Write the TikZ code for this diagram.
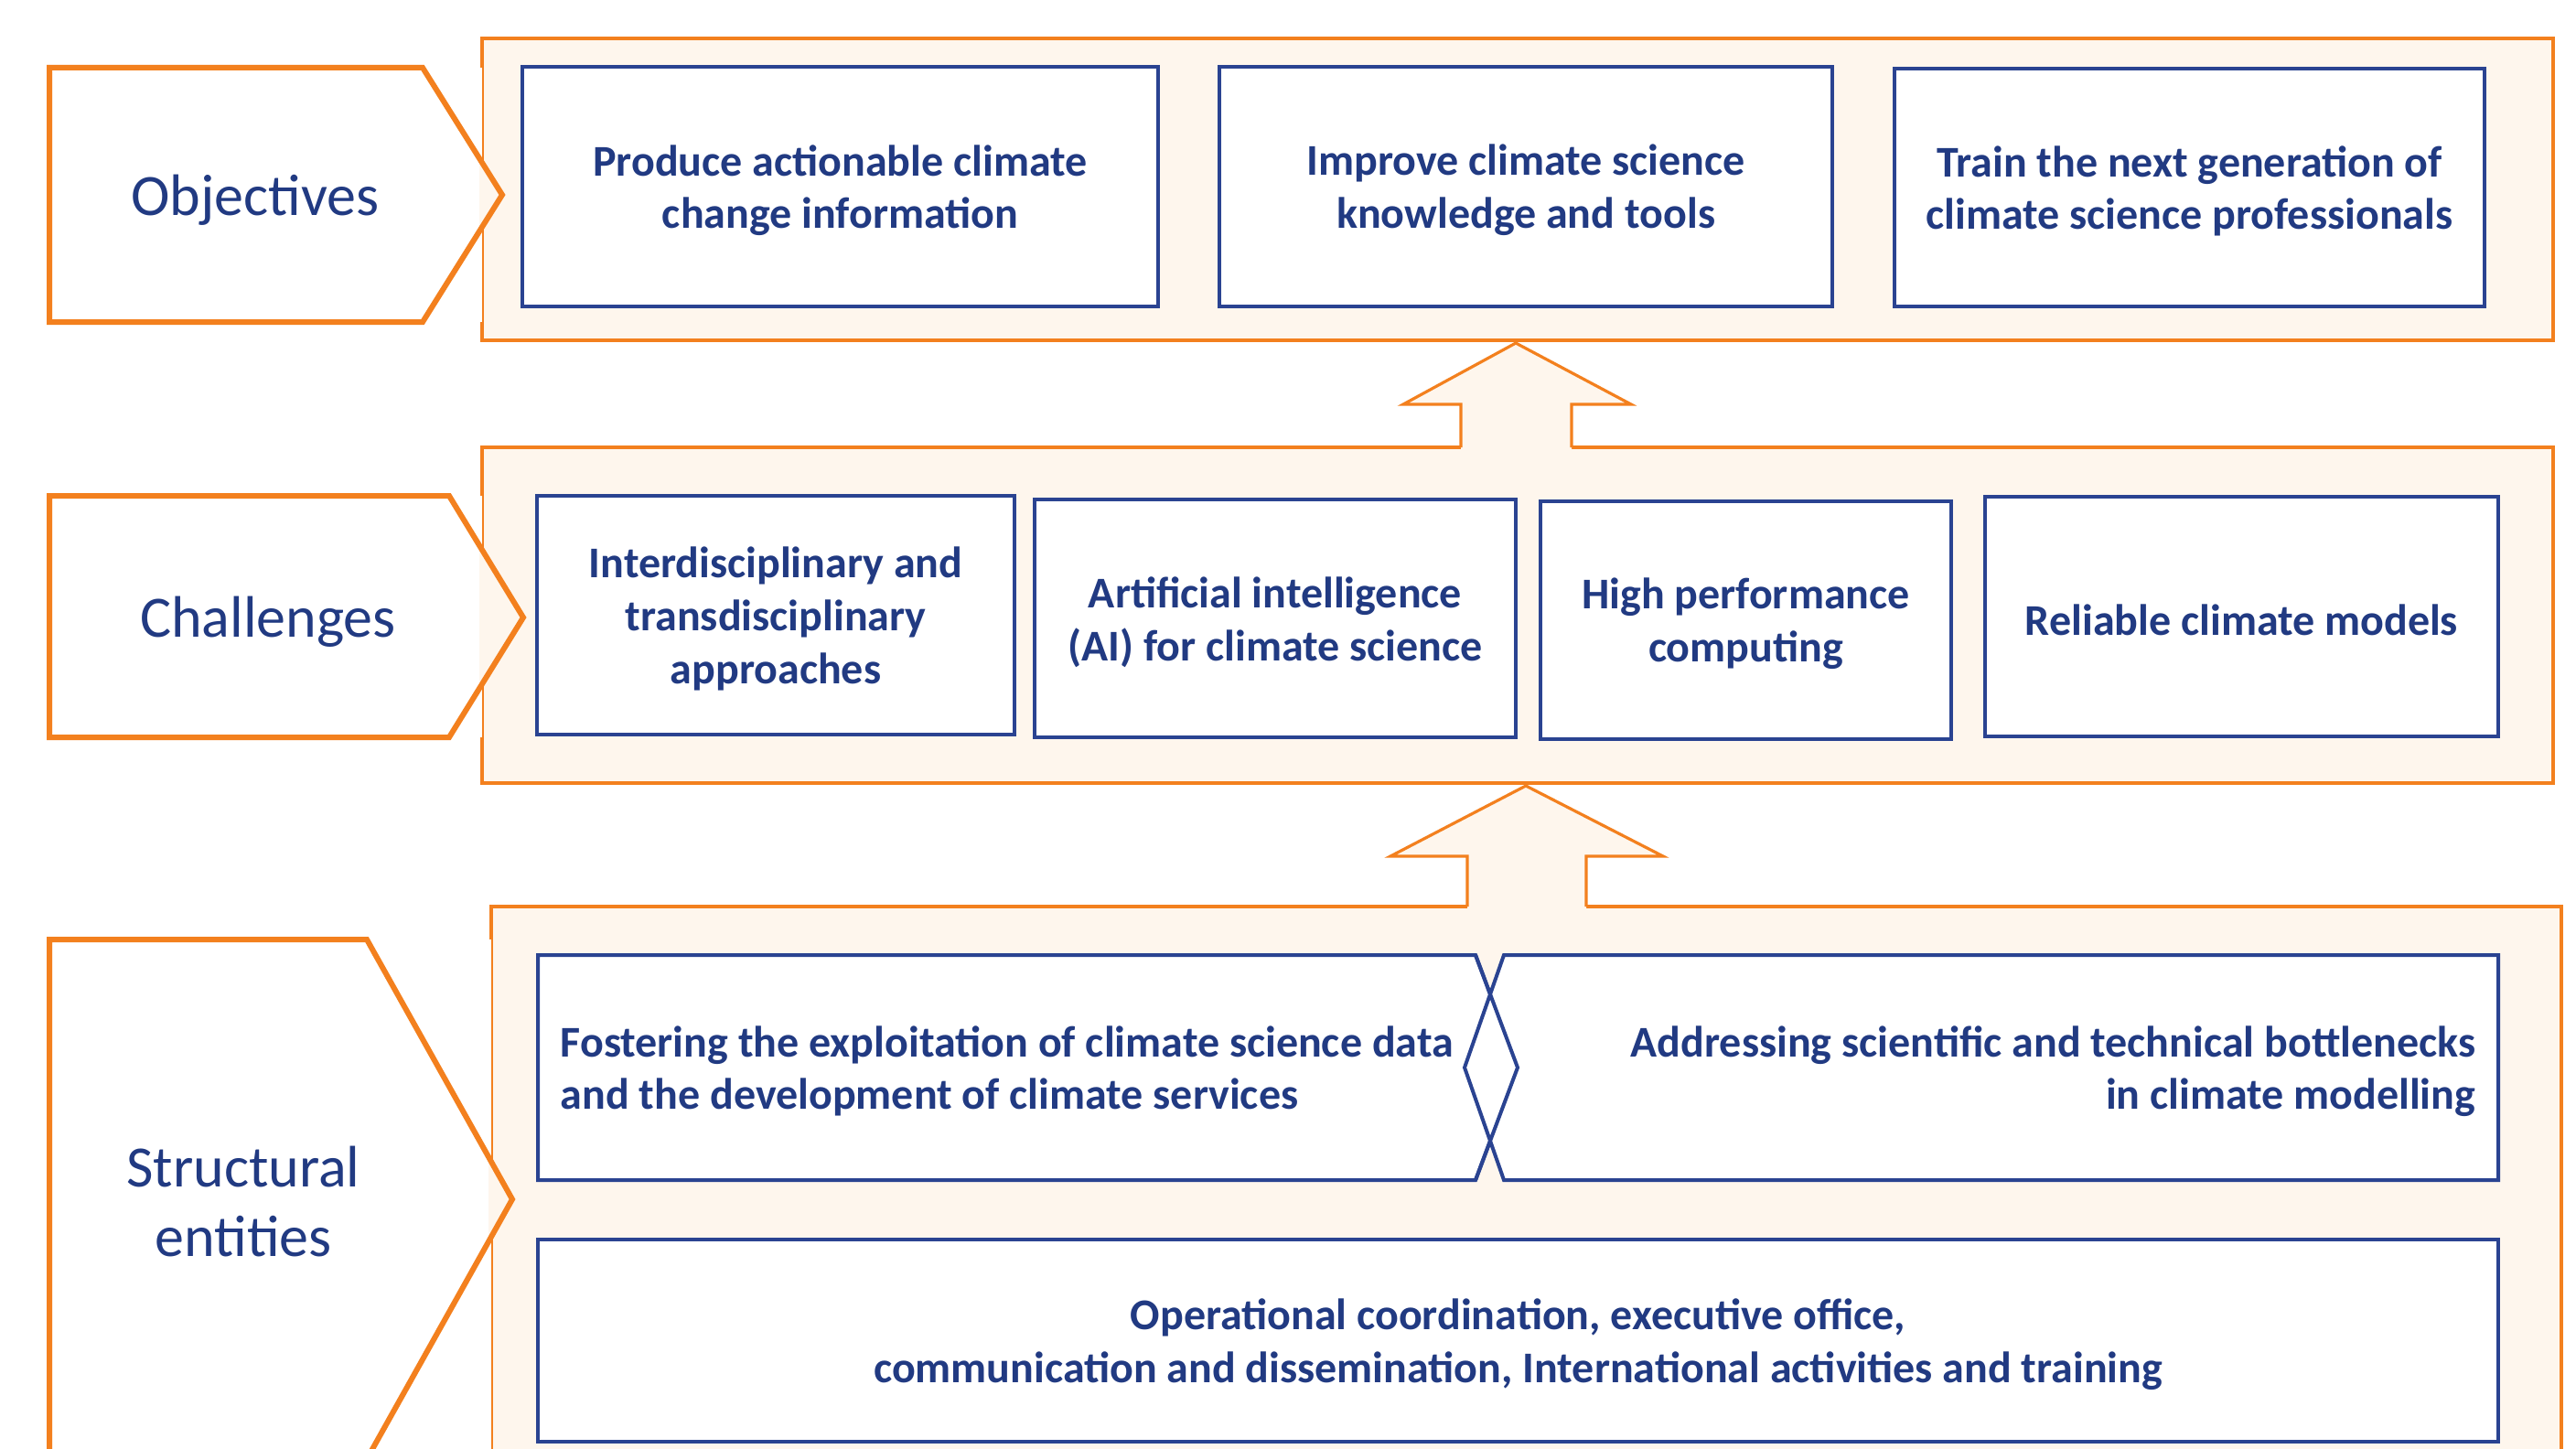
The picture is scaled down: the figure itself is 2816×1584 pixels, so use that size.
\documentclass[tikz,border=0pt]{standalone}
\usepackage{fontspec}
\setmainfont{Carlito}
\definecolor{orng}{RGB}{243,128,30}
\definecolor{peach}{RGB}{254,246,237}
\definecolor{navy}{RGB}{42,67,145}
\definecolor{navytext}{RGB}{33,58,130}
\newcommand\bxfont{\fontsize{12}{14.4}\selectfont\bfseries}
\newcommand\lbfont{\fontsize{16}{19}\selectfont}
\begin{document}
\begin{tikzpicture}[x=0.25pt,y=-0.25pt,
  panel/.style={fill=peach,draw=orng,line width=0.8pt},
  chev/.style={draw=orng,line width=1.5pt,line join=miter},
  box/.style={draw=navy,fill=white,line width=1pt,inner sep=0pt},
  txt/.style={text=navytext,font=\bxfont,inner sep=0pt},
  lbl/.style={text=navytext,font=\lbfont,align=center,inner sep=0pt},
  barrowfill/.style={fill=peach},
  barrowline/.style={draw=orng,line width=0.8pt,line join=miter}]
\useasboundingbox (0,0) rectangle (2816,1584);
\clip (0,0) rectangle (2816,1584);
\fill[white] (0,0) rectangle (2816,1584);

% panels
\draw[panel] (527,42) rectangle (2791,372);
\draw[panel] (527,489) rectangle (2791,856);
\draw[panel] (537,991) rectangle (2800,1700);

% chevrons
\fill[white] (54,74) -- (527,74) -- (527,352) -- (54,352) -- cycle;
\fill[white] (54,542) -- (527,542) -- (527,806) -- (54,806) -- cycle;
\fill[white] (54,1027) -- (537,1027) -- (537,1595) -- (54,1595) -- cycle;
\begin{scope}
  \clip (524,0) rectangle (700,1584);
  \fill[peach] (54,74) -- (462,74) -- (549,213) -- (462,352) -- (54,352) -- cycle;
  \fill[peach] (54,542) -- (491,542) -- (572,675) -- (491,806) -- (54,806) -- cycle;
\end{scope}
\begin{scope}
  \clip (534,0) rectangle (700,1584);
  \fill[peach] (54,1027) -- (401,1027) -- (560,1311) -- (401,1595) -- (54,1595) -- cycle;
\end{scope}
\draw[chev] (54,74) -- (462,74) -- (549,213) -- (462,352) -- (54,352) -- cycle;
\draw[chev] (54,542) -- (491,542) -- (572,675) -- (491,806) -- (54,806) -- cycle;
\draw[chev] (54,1027) -- (401,1027) -- (560,1311) -- (401,1595) -- (54,1595) -- cycle;
\node[lbl] (lobj) at (279,219) {Objectives};
\node[lbl] (lcha) at (293,680) {Challenges};
\node[lbl] (lstr) at (266,1314) {Structural\\entities};

% block arrows
\fill[barrowfill] (1597,494) -- (1597,442) -- (1534,442) -- (1657,375) -- (1783,442) -- (1718,442) -- (1718,494) -- cycle;
\draw[barrowline] (1597,489) -- (1597,442) -- (1534,442) -- (1657,375) -- (1783,442) -- (1718,442) -- (1718,489);
\fill[barrowfill] (1604,996) -- (1604,936) -- (1520,936) -- (1668,859) -- (1818,936) -- (1734,936) -- (1734,996) -- cycle;
\draw[barrowline] (1604,991) -- (1604,936) -- (1520,936) -- (1668,859) -- (1818,936) -- (1734,936) -- (1734,991);

% objective boxes
\node[box,minimum width=173.75pt,minimum height=65.5pt] (o1) at (918.5,204) {};
\node[txt,align=center] (o1t) at ([yshift=-1pt]o1.center) {Produce actionable climate\\change information};
\node[box,minimum width=167.5pt,minimum height=65.5pt] (o2) at (1668,204) {};
\node[txt,align=center] (o2t) at ([yshift=-1pt]o2.center) {Improve climate science\\knowledge and tools};
\node[box,minimum width=161.25pt,minimum height=65pt] (o3) at (2393.5,205) {};
\node[txt,align=center] (o3t) at ([yshift=-1pt]o3.center) {Train the next generation of\\climate science professionals};

% challenge boxes
\node[box,minimum width=130.5pt,minimum height=65.25pt] (c1) at (848,672.5) {};
\node[txt,align=center] (c1t) at ([yshift=-1pt]c1.center) {Interdisciplinary and\\transdisciplinary\\approaches};
\node[box,minimum width=131.5pt,minimum height=65pt] (c2) at (1394,676) {};
\node[txt,align=center] (c2t) at ([yshift=-1pt]c2.center) {Artificial intelligence\\(AI) for climate science};
\node[box,minimum width=112.25pt,minimum height=65pt] (c3) at (1908.5,678) {};
\node[txt,align=center] (c3t) at ([yshift=-1pt]c3.center) {High performance\\computing};
\node[box,minimum width=140.25pt,minimum height=65.5pt] (c4) at (2450.5,674) {};
\node[txt,align=center] (c4t) at ([yshift=-1pt]c4.center) {Reliable climate models};

% structural boxes
\draw[draw=navy,fill=white,line width=1pt,line join=miter] (588,1044) -- (1613,1044) -- (1659,1167) -- (1613,1290) -- (588,1290) -- cycle;
\draw[draw=navy,fill=white,line width=1pt,line join=miter] (1644,1044) -- (2731,1044) -- (2731,1290) -- (1644,1290) -- (1601,1167) -- cycle;
\draw[draw=navy,line width=1pt,line join=miter] (1613,1044) -- (1659,1167) -- (1613,1290);
\node[txt,anchor=west,align=left] (s1) at (612,1171) {Fostering the exploitation of climate science data\\and the development of climate services};
\node[txt,anchor=east,align=right] (s2) at (2707,1171) {Addressing scientific and technical bottlenecks\\in climate modelling};
\node[box,minimum width=535.75pt,minimum height=55.25pt] (s3) at (1659.5,1465.5) {};
\node[txt,align=center] (s3t) at ([yshift=-1pt]s3.center) {Operational coordination, executive office,\\communication and dissemination, International activities and training};
\end{tikzpicture}
\end{document}
